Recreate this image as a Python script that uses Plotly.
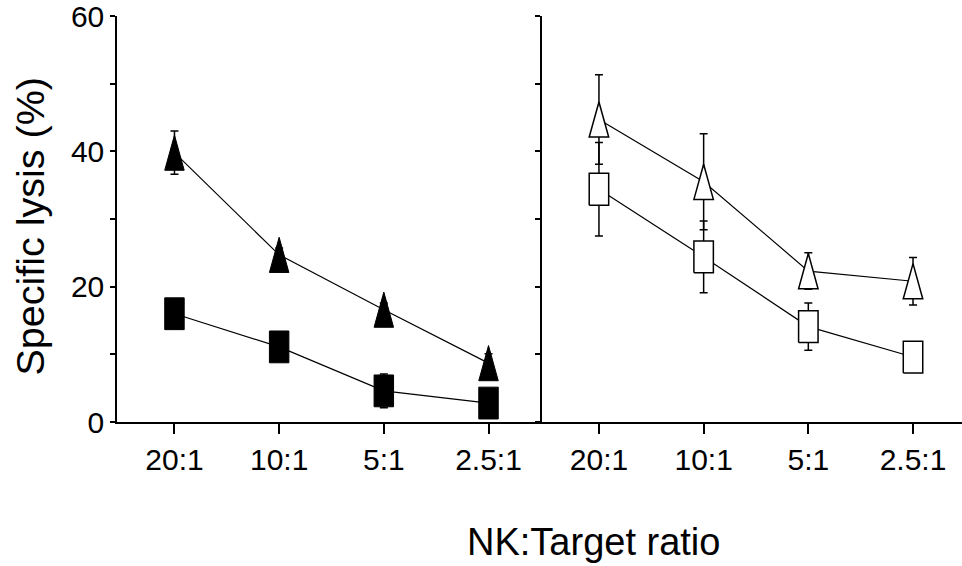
import plotly.graph_objects as go

# ---------------- data ----------------
categories = ["20:1", "10:1", "5:1", "2.5:1"]

left_triangle = [39.8, 24.7, 16.6, 8.7]
left_triangle_err = [3.2, 1.0, 1.0, 1.4]
left_square = [16.0, 11.1, 4.6, 2.8]
left_square_err = [1.0, 1.0, 2.5, 0.8]

right_triangle = [44.7, 35.5, 22.3, 20.8]
right_triangle_err = [6.6, 7.1, 2.7, 3.5]
right_square = [34.4, 24.4, 14.1, 9.6]
right_square_err = [6.9, 5.3, 3.5, 1.0]

y_tickvals = [0, 10, 20, 30, 40, 50, 60]
y_ticktext = ["0", "", "20", "", "40", "", "60"]

# ---------------- style constants ----------------
FONT = "Liberation Sans, Arial, Helvetica, sans-serif"
HW = 0.093     # marker half-width (x units)
HH_SQ = 2.35   # square half-height (y units)
HH_TRI = 2.6   # triangle half-height (y units)

xs = list(range(len(categories)))


def rect_path(x, y, hw, hh):
    px, py = [], []
    for xi, yi in zip(x, y):
        px += [xi - hw, xi + hw, xi + hw, xi - hw, xi - hw, None]
        py += [yi - hh, yi - hh, yi + hh, yi + hh, yi - hh, None]
    return px, py


def tri_path(x, y, hw, hh):
    px, py = [], []
    for xi, yi in zip(x, y):
        px += [xi, xi + hw, xi - hw, xi, None]
        py += [yi + hh, yi - hh, yi - hh, yi + hh, None]
    return px, py


fig = go.Figure()


def add_series(vals, errs, shape, filled, xa, ya):
    # error bars + connecting line
    fig.add_trace(go.Scatter(
        x=xs, y=vals, mode="lines",
        line=dict(color="black", width=1.2),
        error_y=dict(type="data", array=errs, visible=True,
                     color="black", thickness=1.5, width=4),
        xaxis=xa, yaxis=ya, showlegend=False, hoverinfo="skip"))
    if shape == "square":
        px, py = rect_path(xs, vals, HW, HH_SQ)
    else:
        px, py = tri_path(xs, vals, HW, HH_TRI)
    fig.add_trace(go.Scatter(
        x=px, y=py, mode="lines", fill="toself",
        fillcolor="black" if filled else "white",
        line=dict(color="black", width=1 if filled else 1.5),
        xaxis=xa, yaxis=ya, showlegend=False, hoverinfo="skip"))


add_series(left_triangle, left_triangle_err, "triangle", True, "x", "y")
add_series(left_square, left_square_err, "square", True, "x", "y")
add_series(right_triangle, right_triangle_err, "triangle", False, "x2", "y2")
add_series(right_square, right_square_err, "square", False, "x2", "y2")

W, H = 962, 566
ML, MR, MT, MB = 117, 0, 16, 144
split = (542 - ML) / (W - ML - MR)

axis_common = dict(
    showgrid=False, zeroline=False, showline=True,
    linecolor="black", linewidth=1.5,
    ticks="outside", tickcolor="black", tickwidth=1.5,
)

fig.update_layout(
    width=W, height=H,
    margin=dict(l=ML, r=MR, t=MT, b=MB),
    paper_bgcolor="white", plot_bgcolor="white",
    font=dict(family=FONT, color="black"),
    xaxis=dict(domain=[0, split], range=[-0.549, 3.511], anchor="y",
               tickvals=xs, ticktext=categories, ticklen=10,
               ticklabeloverflow="allow",
               tickfont=dict(size=30, family=FONT, color="black"),
               **axis_common),
    xaxis2=dict(domain=[split, 1], range=[-0.544, 3.468], anchor="y2",
                tickvals=xs, ticktext=categories, ticklen=10,
                ticklabeloverflow="allow",
                tickfont=dict(size=30, family=FONT, color="black"),
                **axis_common),
    yaxis=dict(domain=[0, 1], range=[0, 60], anchor="x",
               tickvals=y_tickvals, ticktext=y_ticktext, ticklen=5,
               ticklabelstandoff=0, ticklabeloverflow="allow",
               tickfont=dict(size=30, family=FONT, color="black"),
               **axis_common),
    yaxis2=dict(domain=[0, 1], range=[0, 60], anchor="x2",
                tickvals=y_tickvals, showticklabels=False, ticklen=5,
                **axis_common),
)

plot_w = W - ML - MR
plot_h = H - MT - MB
fig.add_annotation(
    text="NK:Target ratio", xref="paper", yref="paper",
    x=(593.5 - ML) / plot_w, y=(H - MB - 541.5) / plot_h,
    xanchor="center", yanchor="middle", showarrow=False,
    font=dict(size=38, family=FONT, color="black"))
fig.add_annotation(
    text="Specific lysis (%)", xref="paper", yref="paper",
    x=(30 - ML) / plot_w, y=(H - MB - 226.5) / plot_h,
    xanchor="center", yanchor="middle", textangle=-90, showarrow=False,
    font=dict(size=39.5, family=FONT, color="black"))

fig.write_html(
    "out.html",
    config={"displayModeBar": False},
    post_script="document.body.style.margin='0';"
                "document.body.style.overflow='hidden';",
)
